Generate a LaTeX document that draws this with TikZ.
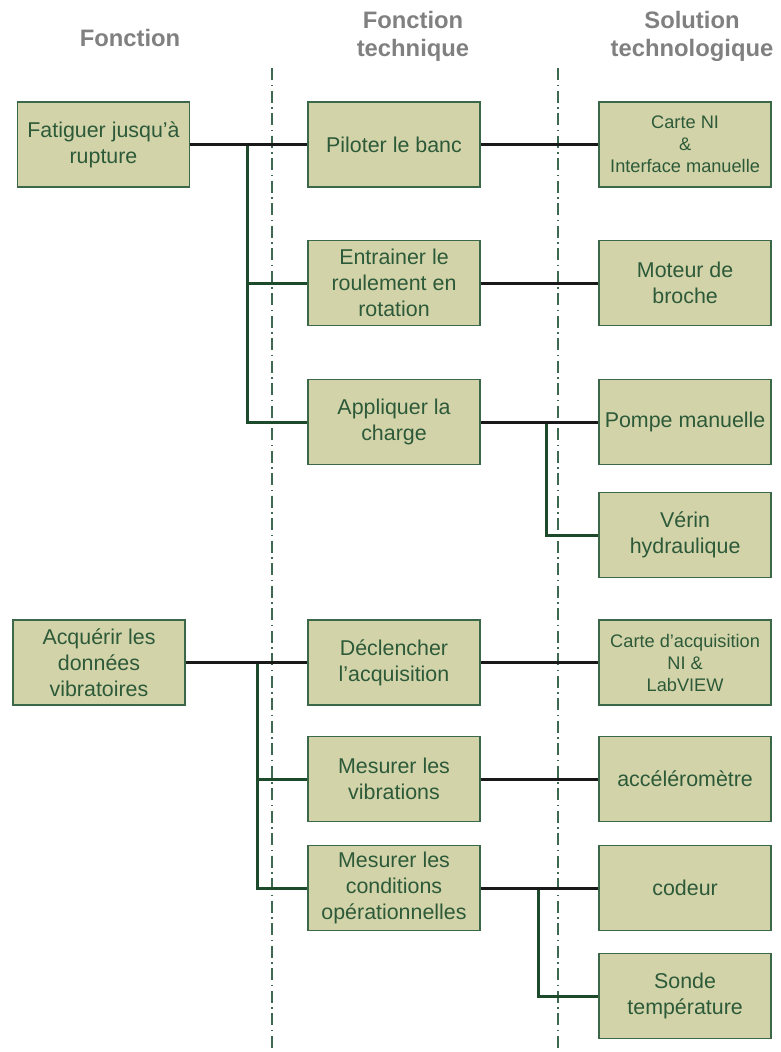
\documentclass[tikz,border=0pt]{standalone}
\usepackage{fontspec}
\setmainfont{Liberation Sans}
\usepackage{xcolor}
\usepackage{tikz}
\usetikzlibrary{positioning}

\definecolor{boxfill}{RGB}{211,211,170}
\definecolor{boxline}{RGB}{58,104,72}
\definecolor{boxtext}{RGB}{44,90,56}
\definecolor{linkgreen}{RGB}{30,74,44}
\definecolor{headgray}{RGB}{128,128,128}
\definecolor{axisgreen}{RGB}{60,105,80}

\begin{document}
\begin{tikzpicture}[
  x=1pt, y=-1pt,
  %% style definitions
  fbox/.style   = {draw=boxline, line width=1.6pt, fill=boxfill,
                   minimum width=172pt, minimum height=85pt,
                   inner sep=2pt, align=center, text=boxtext,
                   font=\fontsize{21.4}{25.8}\selectfont},
  fsmall/.style = {fbox, font=\fontsize{18.2}{22}\selectfont},
  head/.style   = {align=center, text=headgray,
                   font=\fontsize{23.8}{28}\selectfont\bfseries},
  blk/.style    = {line width=3pt, black!90},
  grn/.style    = {line width=3pt, linkgreen},
  axis/.style   = {line width=1.6pt, axisgreen,
                   dash pattern=on 12pt off 4.5pt on 1.5pt off 4.5pt},
]
\useasboundingbox (0,0) rectangle (780,1052);

%% ── Column headers ───────────────────────────────────────────────────────────
\node[head] (hfn)  at (130,38)   {Fonction};
\node[head] (hft)  at (413,36)   {Fonction\\technique};
\node[head] (hsol) at (692,36)   {Solution\\technologique};

%% ── Column separators ────────────────────────────────────────────────────────
\draw[axis] (272,68) -- (272,1048);
\draw[axis] (558,68) -- (558,1048);

%% ── Functions (left column) ──────────────────────────────────────────────────
\node[fbox] (fat) at (103.5,144.5) {Fatiguer jusqu'à\\rupture};
\node[fbox] (acq) at (99,662.5)    {Acquérir les\\données\\vibratoires};

%% ── Technical functions (middle column) ──────────────────────────────────────
\node[fbox] (pil) at (394,144.5) {Piloter le banc};
\node[fbox] (ent) at (394,283)   {Entrainer le\\roulement en\\rotation};
\node[fbox] (app) at (394,422)   {Appliquer la\\charge};
\node[fbox] (dec) at (394,662.5) {Déclencher\\l'acquisition};
\node[fbox] (mvib) at (394,779)  {Mesurer les\\vibrations};
\node[fbox] (mcond) at (394,888) {Mesurer les\\conditions\\opérationnelles};

%% ── Technological solutions (right column) ───────────────────────────────────
\node[fsmall, right=117.5pt of pil] (carte) {Carte NI\\\&\\Interface manuelle};
\node[fbox,   right=117.5pt of ent] (mot)   {Moteur de\\broche};
\node[fbox,   right=117.5pt of app] (pomp)  {Pompe manuelle};
\node[fbox,   below=26.5pt of pomp] (ver)   {Vérin\\hydraulique};
\node[fsmall, right=117.5pt of dec] (cacq)  {Carte d'acquisition\\NI \&\\LabVIEW};
\node[fbox,   right=117.5pt of mvib] (acc)  {accéléromètre};
\node[fbox,   right=117.5pt of mcond] (cod) {codeur};
\node[fbox,   below=21.5pt of cod]  (son)   {Sonde\\température};

%% ── Branch points ────────────────────────────────────────────────────────────
\coordinate (j1) at (247,144.5);
\coordinate (j2) at (546,422);
\coordinate (j3) at (257,662.5);
\coordinate (j4) at (538,888);

%% ── Links ────────────────────────────────────────────────────────────────────
\draw[grn] (j1) |- (ent.west);
\draw[grn] (j1) |- (app.west);
\draw[grn] (j2) |- (ver.west);
\draw[grn] (j3) |- (mvib.west);
\draw[grn] (j3) |- (mcond.west);
\draw[grn] (j4) |- (son.west);

\draw[blk] (fat)   -- (pil);
\draw[blk] (pil)   -- (carte);
\draw[blk] (ent)   -- (mot);
\draw[blk] (app)   -- (pomp);
\draw[blk] (acq)   -- (dec);
\draw[blk] (dec)   -- (cacq);
\draw[blk] (mvib)  -- (acc);
\draw[blk] (mcond) -- (cod);

\end{tikzpicture}
\end{document}
